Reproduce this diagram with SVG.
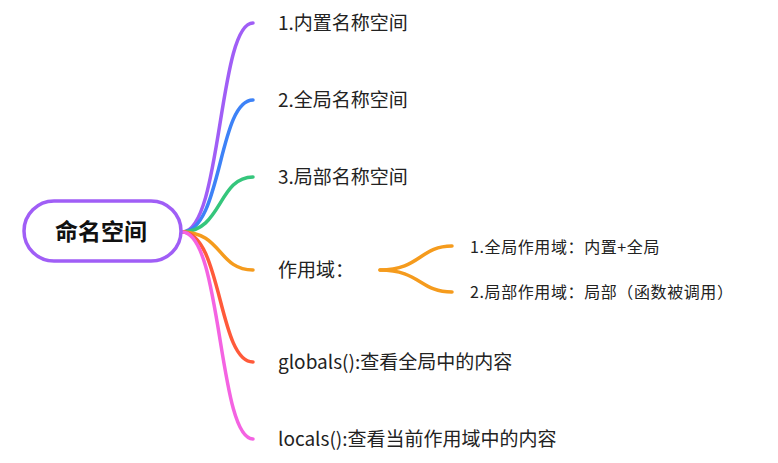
<svg xmlns="http://www.w3.org/2000/svg" width="778" height="463" viewBox="0 0 778 463">
<style>
.t{font-family:"Noto Sans CJK SC","Noto Sans",sans-serif;font-size:19px;fill:#222;}
.s{font-family:"Noto Sans CJK SC","Noto Sans",sans-serif;font-size:16px;letter-spacing:0.6px;fill:#222;}
.r{font-family:"Noto Sans CJK SC","Noto Sans",sans-serif;font-size:23px;font-weight:bold;fill:#111;}
.c{fill:none;stroke-width:3.5;stroke-linecap:round;}
</style>
<rect width="778" height="463" fill="#fff"/>
<g id="connectors">
<path class="c" stroke="#A05EF6" d="M182,232 C222,232 218,23 253,23"/>
<path class="c" stroke="#3D82F7" d="M182,232 C222,232 218,100 253,100"/>
<path class="c" stroke="#35C67C" d="M182,232 C222,232 218,177 253,177"/>
<path class="c" stroke="#F59B1D" d="M182,232 C222,232 218,270 253,270"/>
<path class="c" stroke="#FF5A3A" d="M182,232 C222,232 218,362 253,362"/>
<path class="c" stroke="#F463E2" d="M182,232 C222,232 218,439 253,439"/>
<path class="c" stroke="#F59B1D" d="M380,270 C420,270 420,246 452,246"/>
<path class="c" stroke="#F59B1D" d="M380,270 C420,270 420,292 452,292"/>
</g>
<g id="root">
<rect x="24" y="201" width="157" height="60" rx="30" fill="#fff" stroke="#A05EF6" stroke-width="3.5"/>
<text class="r" x="101" y="240" text-anchor="middle">命名空间</text>
</g>
<g id="n1"><text class="t" x="278" y="29.5">1.内置名称空间</text></g>
<g id="n2"><text class="t" x="278" y="106.5">2.全局名称空间</text></g>
<g id="n3"><text class="t" x="278" y="183.5">3.局部名称空间</text></g>
<g id="n4"><text class="t" x="278" y="276.5">作用域：</text></g>
<g id="n41"><text class="s" x="470" y="252.5">1.全局作用域：内置+全局</text></g>
<g id="n42"><text class="s" x="470" y="298">2.局部作用域：局部（函数被调用）</text></g>
<g id="n5"><text class="t" x="278" y="368.5">globals():查看全局中的内容</text></g>
<g id="n6"><text class="t" x="278" y="445.5">locals():查看当前作用域中的内容</text></g>
</svg>
